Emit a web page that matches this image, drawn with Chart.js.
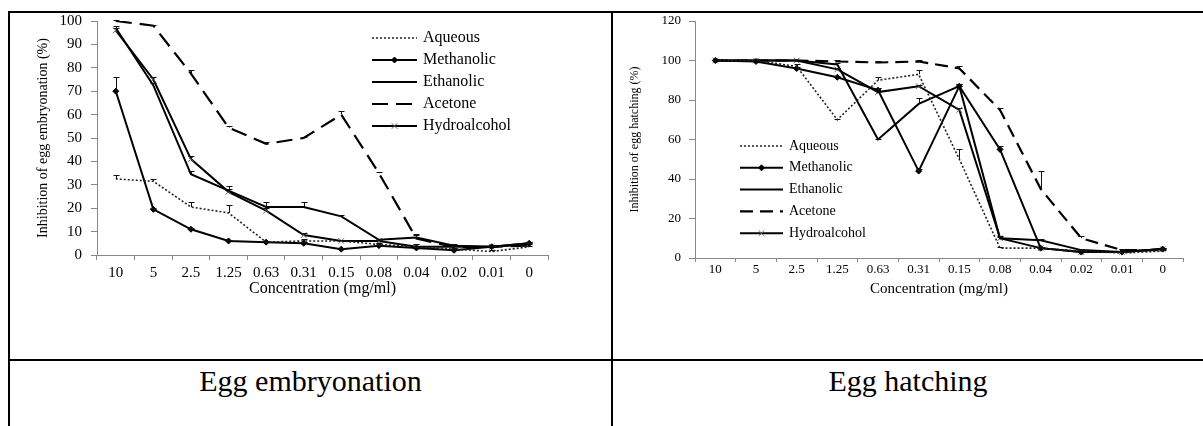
<!DOCTYPE html>
<html>
<head>
<meta charset="utf-8">
<script src="https://cdn.jsdelivr.net/npm/chart.js@4.4.1/dist/chart.umd.min.js"></script>
<style>
    body { margin: 0; background: #fff; }
    #page { position: relative; width: 1203px; height: 426px; overflow: hidden; }
    .rule { position: absolute; background: #000; }
    canvas { position: absolute; }
    .caption {
        position: absolute; top: 364px; text-align: center;
        font-family: "Liberation Serif", "Times New Roman", serif; font-size: 30px; color: #000;
    }
</style>
</head>
<body>
<div id="page">
    <div class="rule" style="left:8px;top:11px;width:1195px;height:2px"></div>
    <div class="rule" style="left:8px;top:11px;width:2px;height:415px"></div>
    <div class="rule" style="left:611px;top:11px;width:2px;height:415px"></div>
    <div class="rule" style="left:8px;top:359px;width:1195px;height:2px"></div>

    <canvas id="embChart" width="600" height="345" style="left:10px;top:13px"></canvas>
    <canvas id="hatChart" width="590" height="345" style="left:613px;top:13px"></canvas>

    <div class="caption" style="left:10px;width:601px">Egg embryonation</div>
    <div class="caption" style="left:613px;width:590px">Egg hatching</div>
</div>

<script>
/* ── Data ── */
const concentrations = ['10', '5', '2.5', '1.25', '0.63', '0.31', '0.15', '0.08', '0.04', '0.02', '0.01', '0'];
const seriesNames    = ['Aqueous', 'Methanolic', 'Ethanolic', 'Acetone', 'Hydroalcohol'];

// egg embryonation inhibition (%)
const embAqueous    = [32.5, 31.5, 20.5, 18, 5.5, 6, 6, 4.5, 3.5, 2.5, 1.5, 3.5];
const embMethanolic = [70, 19.5, 11, 6, 5.5, 5, 2.5, 4, 3, 2, 3.5, 5];
const embEthanolic  = [97, 72.5, 34.5, 27.5, 20.5, 20.5, 16.5, 6.5, 7.5, 4, 3.5, 5];
const embAcetone    = [100, 98, 77.5, 54.5, 47.5, 50, 60, 35, 7, 3.5, 3.5, 4];
const embHydro      = [96, 75, 41, 27, 19, 8.5, 6, 6, 3.5, 3.5, 3.5, 4.5];

// upper error bars (embryonation)
const embAqueousErr    = [1.5, 1, 2, 3.5, 0.5, 1, 0.5, 0.5, 0.5, 0.5, 0.5, 0.5];
const embMethanolicErr = [6, 0.5, 0.5, 0.3, 0.5, 0.5, 0.3, 0.3, 0.3, 0.5, 0.3, 0.5];
const embEthanolicErr  = [1, 1, 1.5, 2, 2, 2, 0.5, 0.5, 1.5, 0.5, 0.3, 0.5];
const embAcetoneErr    = [0.5, 0.5, 1.5, 0.5, 1, 0.5, 1.5, 0.5, 1.5, 0.5, 0.5, 0.5];
const embHydroErr      = [1, 1, 1.5, 1, 1, 1, 0.5, 0.5, 1, 0.5, 0.5, 0.5];

// egg hatching inhibition (%)
const hatAqueous    = [100, 100, 97, 70, 90, 93, 50, 5, 5, 3.5, 2.5, 3.5];
const hatMethanolic = [100, 99.5, 96, 91.5, 85, 44, 87, 55, 5, 3, 3, 4.5];
const hatEthanolic  = [100, 100, 100, 98, 60, 78, 87, 10, 9, 4, 3, 4.5];
const hatAcetone    = [100, 100, 100, 99.5, 99, 99.5, 96, 75, 35, 10, 4, 4];
const hatHydro      = [100, 100, 100, 95.5, 84, 87, 75, 10, 5, 3, 3, 4.5];

// upper error bars (hatching)
const hatAqueousErr    = [0.5, 0.5, 1, 0.5, 1.5, 2, 5, 0.5, 0.5, 0.5, 0.5, 0.5];
const hatMethanolicErr = [0.5, 0.5, 0.5, 0.5, 1, 1, 1, 1.5, 0.5, 0.5, 0.5, 0.5];
const hatEthanolicErr  = [0.5, 0.5, 0.5, 0.5, 0.5, 3, 1, 1, 0.5, 0.5, 0.5, 0.5];
const hatAcetoneErr    = [0.5, 0.5, 0.5, 0.5, 0.5, 0.5, 1, 1, 9, 1, 0.5, 0.5];
const hatHydroErr      = [0.5, 0.5, 0.5, 0.5, 2, 0.5, 1, 0.5, 0.5, 0.5, 0.5, 0.5];

const embTicks = [0, 100, 10];   // min, max, step
const hatTicks = [0, 120, 20];

Chart.defaults.font.family = '"Liberation Serif", "Times New Roman", serif';
Chart.defaults.color = '#000';

/* ── Plugin: upper error bars ── */
const errorBars = {
    id: 'errorBars',
    afterDatasetsDraw(chart) {
        const {ctx, scales: {x, y}} = chart;
        ctx.save();
        ctx.strokeStyle = '#111';
        ctx.lineWidth = 1;
        chart.data.datasets.forEach(ds => {
            if (!ds.errUp) return;
            ds.errUp.forEach((e, j) => {
                const px = Math.round(x.getPixelForValue(j)) + 0.5;
                const y0 = y.getPixelForValue(ds.data[j]);
                const y1 = Math.round(y.getPixelForValue(ds.data[j] + e)) + 0.5;
                ctx.beginPath();
                ctx.moveTo(px, y0);
                ctx.lineTo(px, y1);
                ctx.moveTo(px - 3, y1);
                ctx.lineTo(px + 3, y1);
                ctx.stroke();
            });
        });
        ctx.restore();
    }
};

/* ── Plugin: legend drawn inside the plot ── */
const insideLegend = {
    id: 'insideLegend',
    afterDraw(chart, args, opts) {
        const {ctx} = chart;
        chart.data.datasets.forEach((ds, i) => {
            const yy = opts.y + i * opts.gap;
            ctx.save();
            ctx.strokeStyle = ds.borderColor;
            ctx.lineWidth = ds.borderWidth;
            ctx.setLineDash(ds.borderDash || []);
            ctx.beginPath();
            ctx.moveTo(opts.x, yy);
            ctx.lineTo(opts.x + opts.len, yy);
            ctx.stroke();
            ctx.setLineDash([]);
            if (ds.pointRadius > 0) {
                ctx.fillStyle = ds.pointBackgroundColor;
                ctx.strokeStyle = ds.pointBorderColor;
                ctx.lineWidth = ds.pointBorderWidth;
                Chart.helpers.drawPoint(ctx, {
                    pointStyle: ds.pointStyle, radius: ds.pointRadius,
                    rotation: 0, borderWidth: ds.pointBorderWidth
                }, opts.x + opts.len / 2, yy);
            }
            ctx.fillStyle = '#000';
            ctx.font = opts.font;
            ctx.textBaseline = 'middle';
            ctx.fillText(ds.label, opts.x + opts.len + 6, yy);
            ctx.restore();
        });
    }
};

/* ── Dataset builder ── */
function buildSets(values, errs, dashes) {
    return [
        { label: seriesNames[0], data: values[0], errUp: errs[0],
          borderColor: '#222', borderWidth: 1.6, borderDash: dashes.dot, pointRadius: 0 },
        { label: seriesNames[1], data: values[1], errUp: errs[1],
          borderColor: '#000', borderWidth: 2, pointStyle: 'rectRot', pointRadius: 3,
          pointBackgroundColor: '#000', pointBorderColor: '#000', pointBorderWidth: 1 },
        { label: seriesNames[2], data: values[2], errUp: errs[2],
          borderColor: '#000', borderWidth: 2, pointRadius: 0 },
        { label: seriesNames[3], data: values[3], errUp: errs[3],
          borderColor: '#000', borderWidth: 2.2, borderDash: dashes.dash, pointRadius: 0 },
        { label: seriesNames[4], data: values[4], errUp: errs[4],
          borderColor: '#000', borderWidth: 2, pointStyle: 'crossRot', pointRadius: 4,
          pointBackgroundColor: '#666', pointBorderColor: '#666', pointBorderWidth: 1 }
    ];
}

function makeChart(id, cfg) {
    return new Chart(document.getElementById(id).getContext('2d'), {
        type: 'line',
        data: {
            labels: concentrations,
            datasets: buildSets(cfg.values, cfg.errs, cfg.dashes)
        },
        options: {
            responsive: false,
            animation: false,
            layout: { padding: cfg.padding },
            elements: { line: { tension: 0 } },
            scales: {
                x: {
                    type: 'category',
                    offset: true,
                    grid: { offset: true, drawOnChartArea: false, tickLength: cfg.xTickLen, color: '#888' },
                    border: { color: '#888' },
                    ticks: { padding: cfg.xTickPad, maxRotation: 0, autoSkip: false, font: { size: cfg.tickSize } },
                    title: { display: true, text: 'Concentration (mg/ml)', padding: 0, font: { size: cfg.xTitleSize } },
                    afterFit(scale) { scale.height = cfg.xHeight; scale.paddingLeft = 0; scale.paddingRight = 0; }
                },
                y: {
                    min: cfg.yTicks[0], max: cfg.yTicks[1],
                    grid: { drawOnChartArea: false, tickLength: 6, color: '#888' },
                    border: { color: '#888' },
                    ticks: { stepSize: cfg.yTicks[2], padding: cfg.yTickPad, font: { size: cfg.tickSize } },
                    title: { display: true, text: cfg.yTitle, padding: { top: cfg.yTitlePad, bottom: 0 }, font: { size: cfg.yTitleSize } },
                    afterFit(scale) { scale.width = cfg.yWidth; scale.paddingTop = 0; scale.paddingBottom = 0; }
                }
            },
            plugins: {
                legend: { display: false },
                tooltip: { enabled: false },
                insideLegend: cfg.legend
            }
        },
        plugins: [errorBars, insideLegend]
    });
}

/* ── Egg embryonation ── */
makeChart('embChart', {
    values: [embAqueous, embMethanolic, embEthanolic, embAcetone, embHydro],
    errs: [embAqueousErr, embMethanolicErr, embEthanolicErr, embAcetoneErr, embHydroErr],
    dashes: { dot: [2, 2], dash: [16, 8] },
    padding: { left: 20, right: 62, top: 8, bottom: 60 },
    yTicks: embTicks,
    yTitle: 'Inhibition of egg embryonation (%)',
    yTitleSize: 14, yTitlePad: 5, yWidth: 67, yTickPad: 9,
    tickSize: 15, xTickLen: 5, xTickPad: 4, xTitleSize: 16, xHeight: 43,
    legend: { x: 362, y: 25, gap: 22, len: 45, font: '16px "Liberation Serif", serif' }
});

/* ── Egg hatching ── */
makeChart('hatChart', {
    values: [hatAqueous, hatMethanolic, hatEthanolic, hatAcetone, hatHydro],
    errs: [hatAqueousErr, hatMethanolicErr, hatEthanolicErr, hatAcetoneErr, hatHydroErr],
    dashes: { dot: [2, 2], dash: [13, 7] },
    padding: { left: 12, right: 20, top: 8, bottom: 60 },
    yTicks: hatTicks,
    yTitle: 'Inhibition of egg hatching (%)',
    yTitleSize: 12, yTitlePad: 3, yWidth: 70, yTickPad: 8,
    tickSize: 13, xTickLen: 4, xTickPad: 0, xTitleSize: 15, xHeight: 40,
    legend: { x: 127, y: 133, gap: 21.8, len: 43, font: '14px "Liberation Serif", serif' }
});
</script>
</body>
</html>
